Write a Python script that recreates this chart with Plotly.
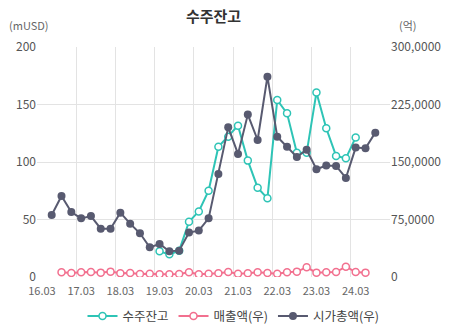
import plotly.graph_objects as go

# quarterly categories 16.03 .. 24.12
years = list(range(16, 25))
months = ["03", "06", "09", "12"]
categories = [f"{y}.{m}" for y in years for m in months]

# 수주잔고 (mUSD, left axis) for index 12..32
backlog_start = 12
backlog = [22.3, 19.7, 22.9, 48.1, 57.0, 75.1, 113.3, 122.0, 131.6, 101.2, 77.7,
           68.4, 153.9, 142.3, 108.0, 108.0, 160.5, 129.3, 105.3, 103.2, 121.4]

# 매출액 (억, right axis) for index 2..33
sales_start = 2
sales = [61000, 52000, 61000, 65000, 57000, 70000, 48000, 52000, 39000, 43000,
         35000, 35000, 39000, 61000, 35000, 43000, 48000, 65000, 43000, 48000,
         61000, 52000, 43000, 61000, 70000, 126000, 57000, 61000, 65000, 135000,
         65000, 57000]

# 시가총액 (억, right axis) for index 1..34
mcap_start = 1
mcap = [809000, 1056000, 848000, 765000, 795000, 630000, 630000, 839000, 696000,
        570000, 387000, 431000, 335000, 344000, 579000, 605000, 765000, 1344000,
        1952000, 1605000, 2118000, 1787000, 2613000, 1830000, 1700000, 1565000,
        1659000, 1406000, 1455000, 1448000, 1292000, 1688000, 1679000, 1883000]

left_ticks = [0, 50, 100, 150, 200]
right_tickvals = [0, 750000, 1500000, 2250000, 3000000]
right_ticktext = ["0", "75,0000", "150,0000", "225,0000", "300,0000"]

TEAL = "#2ec4b6"
PINK = "#f2708f"
GRAY = "#585a70"
FONT = "Noto Sans CJK KR"

def idx(start, n):
    return list(range(start, start + n))

fig = go.Figure()
fig.add_trace(go.Scatter(
    x=idx(backlog_start, len(backlog)), y=backlog, name="수주잔고",
    mode="lines+markers", line=dict(color=TEAL, width=2),
    marker=dict(symbol="circle", size=7, color="white", line=dict(color=TEAL, width=1.5)),
))
fig.add_trace(go.Scatter(
    x=idx(sales_start, len(sales)), y=sales, name="매출액(우)", yaxis="y2",
    mode="lines+markers", line=dict(color=PINK, width=2),
    marker=dict(symbol="circle", size=7, color="white", line=dict(color=PINK, width=1.5)),
))
fig.add_trace(go.Scatter(
    x=idx(mcap_start, len(mcap)), y=mcap, name="시가총액(우)", yaxis="y2",
    mode="lines+markers", line=dict(color=GRAY, width=2),
    marker=dict(symbol="circle", size=8, color=GRAY),
))

tickvals = [i for i in range(len(categories)) if i % 4 == 0]
ticktext = [categories[i] for i in tickvals]

fig.update_layout(
    width=467, height=333,
    margin=dict(l=37, r=77, t=47, b=56, autoexpand=False),
    paper_bgcolor="white", plot_bgcolor="white",
    font=dict(family=FONT, size=12, color="#555"),
    title=dict(text="<b>수주잔고</b>", x=0.5, xref="paper", y=0.949, yref="container",
               yanchor="middle", font=dict(family=FONT, size=15, color="#333")),
    showlegend=True,
    legend=dict(orientation="h", x=0.5, xanchor="center", xref="container",
                y=0.05, yref="container", yanchor="middle",
                font=dict(family=FONT, size=12.5, color="#444"),
                itemwidth=30),
    xaxis=dict(
        range=[-0.5, len(categories) - 0.5], tickmode="array", tickvals=tickvals,
        ticktext=ticktext, showgrid=False, zeroline=False, showline=False,
        tickfont=dict(size=11, color="#666"), ticks="", tickangle=0,
        ticklabelstandoff=6,
        minor=dict(showgrid=True, gridcolor="#e3e3e3", gridwidth=1, tick0=-0.5, dtick=4, ticks=""),
    ),
    yaxis=dict(range=[0, 200], tickvals=left_ticks, showgrid=True, gridcolor="#e3e3e3",
               zeroline=False, showline=False, tickfont=dict(size=12, color="#555")),
    yaxis2=dict(range=[0, 3000000], overlaying="y", side="right", tickmode="array",
                tickvals=right_tickvals, ticktext=right_ticktext, showgrid=False,
                zeroline=False, showline=False, tickfont=dict(size=12, color="#555")),
    annotations=[
        dict(text="(mUSD)", xref="paper", yref="paper", x=-0.085, y=1.095,
             xanchor="left", yanchor="middle", showarrow=False,
             font=dict(size=11, color="#666")),
        dict(text="(억)", xref="paper", yref="paper", x=1.02, y=1.095,
             xanchor="left", yanchor="middle", showarrow=False,
             font=dict(size=11, color="#666")),
    ],
)

fig.write_html("out.html")
